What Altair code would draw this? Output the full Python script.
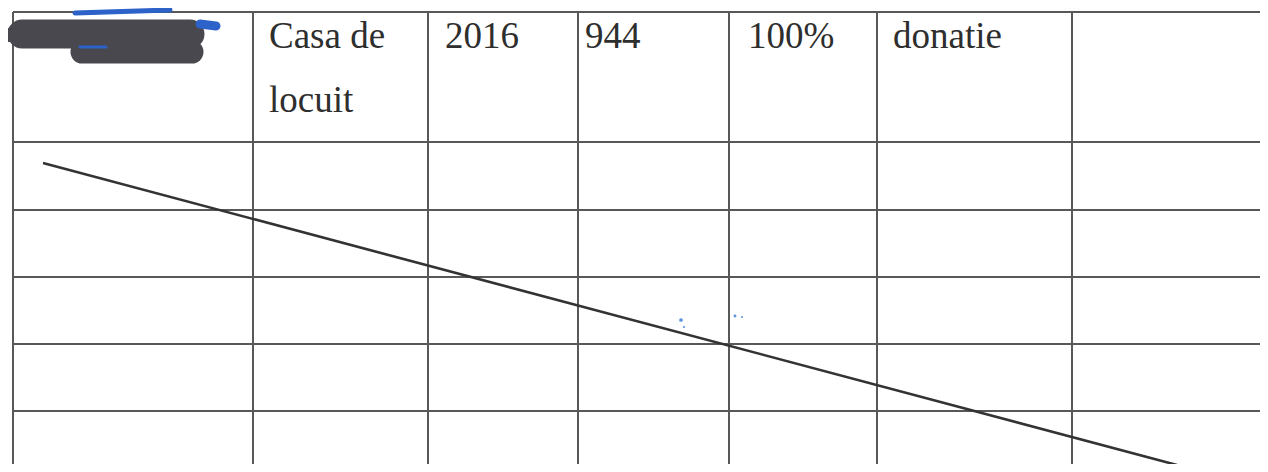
import altair as alt
import pandas as pd

# table grid (picture coordinates)
row_y = [12, 142, 210, 277, 344, 411]
col_x = [13, 253, 428, 578, 729, 877, 1072]
grid_left, grid_right, grid_top, grid_bottom = 13, 1268, 12, 472

# header texts
cell_text = ["Casa de", "locuit", "2016", "944", "100%", "donatie"]
cell_x = [269, 269, 445, 585, 748, 893]
cell_y = [48, 112, 48, 48, 48, 48]

# diagonal strike line
diag_x = [43, 1177]
diag_y = [163, 465]

# redaction scribble strokes
scr_x1 = [22, 82, 8, 75, 200, 80]
scr_y1 = [34, 52, 35, 13, 24, 47]
scr_x2 = [190, 192, 20, 170, 216, 106]
scr_y2 = [34, 52, 35, 10, 26, 47]
scr_w = [29, 23, 14, 5, 9, 3]
scr_c = ["#48484e", "#48484e", "#48484e", "#2d62c8", "#2d62c8", "#2d62c8"]

# stray blue specks
speck_x = [681, 684, 735, 742]
speck_y = [320, 327, 316, 317]
speck_s = [14, 5, 8, 4]

X = alt.Scale(domain=[8, 1260], nice=False, zero=False)
Y = alt.Scale(domain=[8, 464], nice=False, zero=False, reverse=True)

hdf = pd.DataFrame({"y": row_y, "x": grid_left, "x2": grid_right})
vdf = pd.DataFrame({"x": col_x, "y": grid_top, "y2": grid_bottom})
tdf = pd.DataFrame({"t": cell_text, "x": cell_x, "y": cell_y})
ddf = pd.DataFrame({"x": diag_x, "y": diag_y})
sdf = pd.DataFrame({"x": scr_x1, "y": scr_y1, "x2": scr_x2, "y2": scr_y2,
                    "w": scr_w, "c": scr_c, "i": range(len(scr_w))})
pdf = pd.DataFrame({"x": speck_x, "y": speck_y, "s": speck_s})

grid_color = "#585858"

hlines = alt.Chart(hdf).mark_rule(color=grid_color, strokeWidth=2, clip=True).encode(
    x=alt.X("x:Q", scale=X, axis=None), x2="x2:Q",
    y=alt.Y("y:Q", scale=Y, axis=None))
vlines = alt.Chart(vdf).mark_rule(color=grid_color, strokeWidth=2, clip=True).encode(
    x=alt.X("x:Q", scale=X, axis=None),
    y=alt.Y("y:Q", scale=Y, axis=None), y2="y2:Q")
texts = alt.Chart(tdf).mark_text(font="Liberation Serif", fontSize=37, align="left",
                                 baseline="alphabetic", color="#2e2e2e").encode(
    x=alt.X("x:Q", scale=X, axis=None), y=alt.Y("y:Q", scale=Y, axis=None), text="t:N")
diag = alt.Chart(ddf).mark_line(color="#333333", strokeWidth=2.6, clip=True).encode(
    x=alt.X("x:Q", scale=X, axis=None), y=alt.Y("y:Q", scale=Y, axis=None))
scribble = alt.Chart(sdf).mark_rule(strokeCap="round").encode(
    x=alt.X("x:Q", scale=X, axis=None), x2="x2:Q",
    y=alt.Y("y:Q", scale=Y, axis=None), y2="y2:Q",
    strokeWidth=alt.StrokeWidth("w:Q", scale=None, legend=None),
    color=alt.Color("c:N", scale=None, legend=None),
    order="i:Q")
specks = alt.Chart(pdf).mark_circle(color="#4a86d8", opacity=0.9).encode(
    x=alt.X("x:Q", scale=X, axis=None), y=alt.Y("y:Q", scale=Y, axis=None),
    size=alt.Size("s:Q", scale=None, legend=None))

chart = alt.layer(hlines, vlines, diag, scribble, specks, texts).properties(
    width=1252, height=456, padding=0, autosize="none", background="white"
).configure_view(stroke=None)

chart.save("out.html", embed_options={"renderer": "svg", "actions": False})
